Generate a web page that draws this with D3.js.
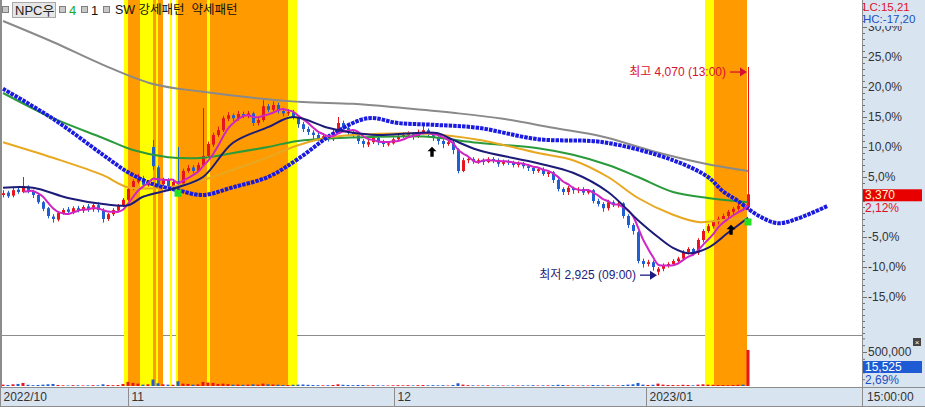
<!DOCTYPE html>
<html><head><meta charset="utf-8">
<script src="https://cdn.jsdelivr.net/npm/d3@7"></script>
<style>
body{margin:0;background:#fff;overflow:hidden}
svg{display:block;font-family:"Liberation Sans","Noto Sans CJK KR",sans-serif}
</style></head><body>
<svg id="c" width="925" height="407"></svg>
<script>
// ---- data (percent change vs base 3,300) ----
const opens=[2.0,2.4,1.9,2.9,2.5,3.4,2.6,2.0,0.8,-0.2,
-1.6,-2.1,-1.0,-0.4,-0.9,-0.2,-0.6,0.1,-0.4,0.3,
-0.5,-2.0,-1.2,-0.6,0.2,1.2,3.0,4.2,4.8,3.6,
10.0,6.6,3.8,4.5,3.5,4.3,3.9,6.0,6.6,6.0,
7.0,8.5,10.4,12.0,12.8,14.7,15.3,14.8,15.5,15.2,
15.6,14.0,14.5,16.8,16.2,17.0,16.0,15.6,15.8,15.0,
13.8,13.0,12.4,12.0,11.5,11.8,11.3,12.5,14.0,13.2,
12.5,12.0,11.0,10.4,10.8,11.5,10.8,10.4,10.6,11.3,
11.8,12.0,12.3,11.8,12.5,12.8,12.2,11.5,11.0,10.5,
10.8,9.6,6.0,7.8,8.0,7.6,7.8,7.5,8.0,7.8,
7.2,7.6,7.4,7.0,7.3,6.8,6.5,6.0,6.3,5.5,
5.8,4.5,3.0,2.5,3.2,2.8,3.0,2.4,2.8,1.0,
0.5,-0.2,0.8,0.3,0.6,-1.5,-3.0,-4.2,-9.0,-9.5,
-9.2,-10.8,-10.3,-9.7,-9.5,-9.0,-8.6,-7.5,-7.0,-7.6,
-5.5,-4.0,-3.2,-2.5,-2.0,-1.5,-0.8,-0.3,0.2,0.0];
const highs=[2.8,2.7,3.2,3.3,5.0,3.6,2.9,2.2,1.0,0.0,
-1.2,-0.7,-0.2,0.0,0.1,0.2,0.3,0.5,0.6,0.8,
-0.2,-1.0,-0.2,0.5,1.5,3.3,4.6,5.5,5.2,4.5,
11.2,6.9,4.9,4.8,4.6,10.0,6.4,7.0,7.0,7.4,
16.5,10.9,12.4,13.4,15.2,15.8,15.6,16.0,15.9,16.0,
15.9,15.0,17.8,17.2,17.6,17.4,16.4,16.3,16.2,15.3,
14.2,13.4,12.8,12.5,12.3,12.2,13.0,15.0,14.4,13.6,
12.8,12.3,11.3,11.2,11.9,11.8,11.2,11.0,11.6,12.3,
12.5,12.6,12.5,12.9,14.0,13.1,12.5,11.8,11.3,11.2,
11.0,9.8,8.2,8.4,8.3,8.1,8.1,8.3,8.3,8.1,
7.9,7.9,7.7,7.6,7.5,7.1,6.8,6.6,6.6,6.1,
6.0,4.8,3.3,3.5,3.4,3.3,3.3,3.0,3.0,1.4,
0.8,1.2,1.1,0.9,0.8,-1.2,-2.7,-4.0,-8.6,-8.8,
-8.9,-10.0,-9.4,-9.2,-8.7,-8.3,-7.2,-6.7,-6.8,-5.2,
-3.7,-2.8,-2.2,-1.6,-1.1,-0.5,0.0,0.6,0.6,23.33];
const lows=[1.6,1.5,1.6,2.2,2.3,2.3,1.5,0.5,-0.7,-1.9,
-2.6,-2.4,-1.3,-1.2,-1.2,-0.9,-1.0,-0.8,-0.8,-0.9,
-2.6,-2.3,-1.5,-0.9,0.0,1.0,2.8,3.9,3.4,3.4,
6.2,3.4,3.5,3.1,3.2,3.4,3.6,5.7,5.6,5.8,
6.7,8.2,10.0,11.7,12.5,14.3,14.3,14.4,14.8,14.8,
13.5,13.6,14.2,15.8,15.9,15.6,15.1,15.2,14.6,13.2,
12.5,12.0,11.3,11.0,11.2,10.9,11.0,12.2,12.8,12.0,
11.5,10.5,9.9,10.0,10.5,10.3,10.0,10.1,10.4,11.0,
11.5,11.6,11.2,11.5,12.1,11.8,11.0,10.4,9.8,10.2,
8.8,5.6,5.8,7.3,7.2,7.2,7.0,7.3,7.3,6.7,
6.9,7.0,6.6,6.6,6.4,6.0,5.5,5.7,5.2,5.0,
4.0,2.6,2.0,2.0,2.2,2.3,2.0,2.1,0.6,0.1,
-0.8,-0.6,0.0,-0.1,-1.9,-3.5,-4.6,-9.4,-10.1,-9.9,
-10.6,-11.36,-10.7,-10.1,-9.8,-9.3,-8.9,-7.9,-8.1,-8.0,
-5.9,-4.3,-3.6,-2.9,-2.4,-1.9,-1.2,-0.6,-0.6,-0.5];
const closes=[2.3,1.8,2.8,2.5,3.5,2.6,2.0,0.8,-0.3,-1.5,
-2.0,-1.0,-0.5,-0.8,-0.2,-0.6,0.0,-0.4,0.3,-0.5,
-2.0,-1.2,-0.5,0.2,1.2,3.0,4.3,4.8,3.7,4.0,
6.8,3.8,4.5,3.5,4.2,3.8,6.0,6.5,6.0,7.0,
8.5,10.5,12.0,12.8,14.8,15.3,14.8,15.5,15.2,15.6,
14.0,14.5,16.8,16.2,17.0,16.0,15.6,15.8,15.0,13.8,
13.0,12.5,12.0,11.5,11.8,11.3,12.5,14.0,13.2,12.5,
12.0,11.0,10.5,10.8,11.5,10.8,10.5,10.6,11.3,11.8,
12.0,12.3,11.8,12.5,12.8,12.2,11.5,11.0,10.5,10.8,
9.5,6.0,7.8,8.0,7.6,7.8,7.5,8.0,7.8,7.2,
7.6,7.4,7.0,7.3,6.8,6.5,6.0,6.3,5.5,5.8,
4.5,3.0,2.5,3.2,2.8,3.0,2.4,2.8,1.0,0.5,
-0.2,0.8,0.3,0.6,-1.5,-3.0,-4.0,-9.0,-9.5,-9.2,
-10.0,-10.3,-9.7,-9.5,-9.0,-8.6,-7.5,-7.0,-7.6,-5.5,
-4.0,-3.2,-2.5,-2.0,-1.5,-0.8,-0.3,0.2,0.0,2.12];
// volume, thousands of shares
const volumes=[20,15,25,30,45,18,12,15,20,25,
30,15,10,8,12,10,8,9,12,10,
25,15,12,14,30,60,45,35,20,25,
95,40,25,20,18,70,35,30,20,25,
60,50,45,30,35,28,20,22,18,20,
25,20,35,25,22,20,15,14,18,20,
22,18,14,12,10,12,15,25,18,14,
12,15,14,10,12,10,9,8,10,12,
10,12,9,12,14,10,12,10,12,8,
15,40,20,12,10,8,9,10,8,9,
8,7,9,8,10,9,12,8,10,9,
12,18,15,10,9,8,10,8,15,12,
10,12,8,9,14,20,25,45,20,15,
18,35,20,15,14,12,18,15,10,20,
25,20,18,15,14,12,15,18,20,530];
// moving averages read at bar positions [barIndex, percent]
const maGray=[[0,31.0],[10,27.5],[20,23.7],[30,20.5],[40,19.2],[50,18.2],[60,17.5],[70,17.2],[80,16.5],[90,15.7],[100,14.7],[110,13.2],[120,11.7],[130,9.3],[140,7.3],[149,6.0]];
const maGreen=[[0,19.0],[10,14.8],[20,11.5],[26,9.5],[33,8.3],[40,8.2],[46,9.0],[53,10.0],[59,11.0],[75,11.7],[85,11.7],[95,10.7],[107,9.8],[114,8.7],[121,7.0],[127,5.0],[134,2.5],[141,1.5],[149,0.8]];
const maGold=[[0,10.8],[10,8.2],[20,5.3],[25,3.3],[33,3.3],[40,4.5],[46,6.2],[53,8.3],[59,10.3],[66,11.7],[75,12.2],[85,12.2],[95,11.2],[107,9.0],[114,7.8],[121,5.0],[127,1.5],[134,-1.3],[139,-2.5],[144,-2.2],[149,-1.8]];
const maBlue=[[0,19.7],[10,14.7],[20,8.7],[25,5.8],[30,3.8],[35,2.8],[40,2.0],[46,3.3],[53,5.0],[59,8.0],[66,12.2],[73,14.8],[79,14.0],[86,13.7],[95,13.2],[107,11.3],[120,10.8],[134,7.8],[141,5.0],[144,2.6],[147,1.0],[151,-1.4],[155,-2.7],[159,-1.9],[165,0.2]];
const maNavy=[[0,3.2],[6,3.2],[13,1.5],[20,0.5],[25,0.3],[28,1.7],[33,2.8],[35,3.3],[40,5.0],[46,10.7],[53,13.3],[58,15.0],[65,13.2],[69,12.5],[75,12.0],[82,12.3],[87,12.3],[90,11.2],[95,9.5],[107,7.3],[114,5.7],[121,2.5],[127,-2.2],[131,-5.0],[134,-6.8],[137,-7.7],[141,-6.8],[145,-4.3],[149,-1.8]];
// pattern bands [fromBar, toBar]
const strongBands=[[25.0,27.4],[30.0,30.6],[31.0,32.0],[35.0,40.8],[41.4,57.0],[142.2,148.8]];
const weakBands=[[24.2,25.0],[27.4,30.0],[30.6,31.0],[33.4,33.8],[34.6,35.0],[40.8,41.4],[57.0,58.8],[140.4,142.2]];
// signals
const greenSignals=[[35,2.3],[149,-2.5]];
const arrowSignals=[[85.8,9.2],[145.6,-3.8]];
// axes labels
const yTicks=[-15,-10,-5,5,10,15,20,25,30];
const monthStarts=[-0.6,25,78.2,128.6];
const monthLabels=["2022/10","11","12","2023/01"];
const highInfo={bar:149,value:23.33,text:"최고 4,070 (13:00)"};
const lowInfo={bar:131,value:-11.36,text:"최저 2,925 (09:00)"};
const lastPrice="3,370", lastPct="2,12%", lastVol="15,525", volPct="2,69%";

// ---- drawing ----
const svg=d3.select("#c");
const PR=862, MB=335, VB=386, AX=387;
const AXBG="#d9e4f1", RED="#e8141e", BLUE="#1f5fd2", ORANGE="#ff9a00", YELLOW="#ffff00";
const xs=d3.scaleLinear().domain([0,149]).range([3,748]);
const ys=d3.scaleLinear().domain([-15,25]).range([297,57]);
const yv=d3.scaleLinear().domain([0,500]).range([VB,352]);

svg.append("rect").attr("width",925).attr("height",407).attr("fill","#fff");
const defs=svg.append("defs");
defs.append("clipPath").attr("id","cp").append("rect").attr("x",2).attr("y",0).attr("width",PR-2).attr("height",MB);
defs.append("clipPath").attr("id","cpTop").append("rect").attr("x",0).attr("y",26).attr("width",70).attr("height",400);
svg.append("line").attr("x1",0).attr("x2",PR).attr("y1",MB+0.5).attr("y2",MB+0.5).attr("stroke","#8c8c8c");

const bg=svg.append("g");
bg.selectAll(".w").data(weakBands).join("rect").attr("x",d=>xs(d[0])).attr("width",d=>xs(d[1])-xs(d[0])).attr("y",0).attr("height",VB).attr("fill",YELLOW);
bg.selectAll(".s").data(strongBands).join("rect").attr("x",d=>xs(d[0])).attr("width",d=>xs(d[1])-xs(d[0])).attr("y",0).attr("height",VB).attr("fill",ORANGE);

const bars=d3.range(closes.length).map(i=>({i,o:opens[i],h:highs[i],l:lows[i],c:closes[i],v:volumes[i]}));
const col=d=>d.c>=d.o?RED:BLUE;

// volume
svg.append("g").selectAll("rect").data(bars).join("rect")
  .attr("x",d=>xs(d.i)-1.5).attr("width",3)
  .attr("y",d=>yv(d.v)).attr("height",d=>VB-yv(d.v)).attr("fill",col);

const plot=svg.append("g").attr("clip-path","url(#cp)");
// candles
const cg=plot.append("g");
cg.selectAll("line").data(bars).join("line")
  .attr("x1",d=>xs(d.i)+0.5).attr("x2",d=>xs(d.i)+0.5)
  .attr("y1",d=>ys(d.h)).attr("y2",d=>ys(d.l)).attr("stroke",col).attr("stroke-width",1);
cg.selectAll("rect").data(bars).join("rect")
  .attr("x",d=>xs(d.i)-1).attr("width",3)
  .attr("y",d=>ys(Math.max(d.o,d.c))).attr("height",d=>Math.max(1,Math.abs(ys(d.o)-ys(d.c)))).attr("fill",col);

const line=d3.line().x(d=>xs(d[0])).y(d=>ys(d[1])).curve(d3.curveCatmullRom.alpha(0.5));
plot.append("path").attr("d",line(maGray)).attr("fill","none").attr("stroke","#8a8a8a").attr("stroke-width",2);
plot.append("path").attr("d",line(maGreen)).attr("fill","none").attr("stroke","#2a9a3a").attr("stroke-width",2);
plot.append("path").attr("d",line(maGold)).attr("fill","none").attr("stroke","#e8a820").attr("stroke-width",2);
plot.append("path").attr("d",line(maBlue)).attr("fill","none").attr("stroke","#1a1ae0").attr("stroke-width",4).attr("stroke-dasharray","3.5,1");
// short MA of closes
const ma5=bars.filter(d=>d.i>=4).map(d=>[d.i,d3.mean(closes.slice(d.i-4,d.i+1))]);
plot.append("path").attr("d",line(ma5)).attr("fill","none").attr("stroke","#d024c4").attr("stroke-width",2);
plot.append("path").attr("d",line(maNavy)).attr("fill","none").attr("stroke","#1c1c78").attr("stroke-width",2);

// signals
plot.selectAll(".gs").data(greenSignals).join("rect").attr("x",d=>xs(d[0])-3.5).attr("y",d=>ys(d[1])-3.5).attr("width",7).attr("height",7).attr("fill","#22e022");
plot.selectAll(".ar").data(arrowSignals).join("path")
  .attr("transform",d=>`translate(${xs(d[0])},${ys(d[1])})`)
  .attr("d","M0,-5L4.5,-0.5L1.7,-0.5L1.7,5L-1.7,5L-1.7,-0.5L-4.5,-0.5Z").attr("fill","#000");

// annotations
function annot(info,color,dy){
  const tx=xs(info.bar)-1, ty=ys(info.value)+dy;
  const g=svg.append("g");
  g.append("line").attr("x1",tx-17).attr("x2",tx-5).attr("y1",ty).attr("y2",ty).attr("stroke",color).attr("stroke-width",1.3);
  g.append("path").attr("d",`M${tx},${ty}L${tx-7},${ty-4.5}L${tx-7},${ty+4.5}Z`).attr("fill",color);
  g.append("text").attr("x",tx-21).attr("y",ty).attr("dy","0.35em").attr("text-anchor","end").attr("font-size",12).attr("fill",color).text(info.text);
}
annot(highInfo,"#d81030",5);
annot(lowInfo,"#1c1c80",0);

// left border
svg.append("line").attr("x1",1).attr("x2",1).attr("y1",0).attr("y2",AX).attr("stroke","#8c8c8c").attr("stroke-width",2);

// right axis panel and bottom panel
svg.append("rect").attr("x",PR).attr("y",0).attr("width",925-PR).attr("height",AX).attr("fill",AXBG);
svg.append("rect").attr("x",0).attr("y",AX).attr("width",925).attr("height",407-AX).attr("fill",AXBG);
svg.append("line").attr("x1",0).attr("x2",925).attr("y1",AX+0.5).attr("y2",AX+0.5).attr("stroke","#8c8c8c");
svg.append("line").attr("x1",0).attr("x2",925).attr("y1",406.5).attr("y2",406.5).attr("stroke","#8c8c8c");

const fmt=d=>d3.format(".1f")(d).replace("−","-").replace(".",",")+"%";
const ya=svg.append("g").attr("transform",`translate(${PR},0)`).attr("clip-path","url(#cpTop)")
  .call(d3.axisRight(ys).tickValues(yTicks).tickSize(5).tickPadding(1).tickFormat(fmt));
ya.select(".domain").remove();
const ym=svg.append("g").attr("transform",`translate(${PR},0)`)
  .call(d3.axisRight(ys).tickValues(d3.range(-21,35)).tickSize(3).tickFormat(""));
ym.select(".domain").remove();
const va=svg.append("g").attr("transform",`translate(${PR},0)`)
  .call(d3.axisRight(yv).tickValues([100,200,300,400,600,700]).tickSize(3).tickFormat(""));
va.select(".domain").remove();
const vb=svg.append("g").attr("transform",`translate(${PR},0)`)
  .call(d3.axisRight(yv).tickValues([500]).tickSize(5).tickPadding(1).tickFormat(d=>d3.format(",")(d*1000)));
vb.select(".domain").remove();
[ya,ym,va,vb].forEach(g=>{g.selectAll("line").attr("stroke","#707070");g.selectAll("text").attr("font-size",12).attr("fill","#333").attr("font-family",null);});
svg.append("line").attr("x1",PR+0.5).attr("x2",PR+0.5).attr("y1",0).attr("y2",407).attr("stroke","#8c8c8c");

// LC / HC
svg.append("text").attr("x",PR+1).attr("y",6.5).attr("dy","0.35em").attr("font-size",11.5).attr("fill","#e0102a").text("LC:15,21");
svg.append("text").attr("x",PR+1).attr("y",18.5).attr("dy","0.35em").attr("font-size",11.5).attr("fill","#2050c0").text("HC:-17,20");

// last price
const lp=ys(closes[closes.length-1]);
svg.append("rect").attr("x",PR+1).attr("y",lp-5).attr("width",59).attr("height",12).attr("fill","#e80000");
svg.append("text").attr("x",PR+3).attr("y",lp+1).attr("dy","0.35em").attr("font-size",12).attr("fill","#fff6cc").text(lastPrice);
svg.append("text").attr("x",PR+3).attr("y",lp+14).attr("dy","0.35em").attr("font-size",12).attr("fill","#e0102a").text(lastPct);

// volume labels
svg.append("rect").attr("x",PR+1).attr("y",361).attr("width",59).attr("height",12).attr("fill","#1d5ad4");
svg.append("text").attr("x",PR+3).attr("y",367).attr("dy","0.35em").attr("font-size",12).attr("fill","#fff").text(lastVol);
svg.append("text").attr("x",PR+3).attr("y",380).attr("dy","0.35em").attr("font-size",12).attr("fill","#2050c0").text(volPct);
svg.append("rect").attr("x",913).attr("y",338).attr("width",8).attr("height",8).attr("fill","#444");
svg.append("text").attr("x",917).attr("y",342).attr("dy","0.35em").attr("text-anchor","middle").attr("font-size",8).attr("fill","#fff").text("×");

// x axis
const xa=svg.append("g").attr("transform",`translate(0,${AX})`)
  .call(d3.axisBottom(xs).tickValues(monthStarts).tickSize(20).tickFormat((d,i)=>monthLabels[i]));
xa.select(".domain").remove();
xa.selectAll("line").attr("stroke","#8c8c8c");
xa.selectAll("text").attr("text-anchor","start").attr("x",3).attr("y",10).attr("dy","0.35em").attr("font-size",12).attr("fill","#333").attr("font-family",null);
svg.append("text").attr("x",PR+5).attr("y",AX+10).attr("dy","0.35em").attr("font-size",12).attr("fill","#333").text("15:00:00");

// legend
const lg=svg.append("g");
function sq(x){lg.append("rect").attr("x",x+0.5).attr("y",6.5).attr("width",6).attr("height",6).attr("fill","#c8c8c8").attr("stroke","#808080");}
sq(2);
lg.append("rect").attr("x",12.5).attr("y",2.5).attr("width",43).attr("height",15).attr("fill","#e6e6e6").attr("stroke","#a8a8a8");
lg.append("text").attr("x",15).attr("y",10).attr("dy","0.35em").attr("font-size",13).attr("fill","#222").text("NPC우");
sq(59);
lg.append("text").attr("x",69).attr("y",10).attr("dy","0.35em").attr("font-size",13).attr("fill","#22aa22").text("4");
sq(81);
lg.append("text").attr("x",91).attr("y",10).attr("dy","0.35em").attr("font-size",13).attr("fill","#111").text("1");
sq(103);
lg.append("text").attr("x",115).attr("y",10).attr("dy","0.35em").attr("font-size",12.5).attr("fill","#111").attr("xml:space","preserve").text("SW 강세패턴  약세패턴");
</script></body></html>
